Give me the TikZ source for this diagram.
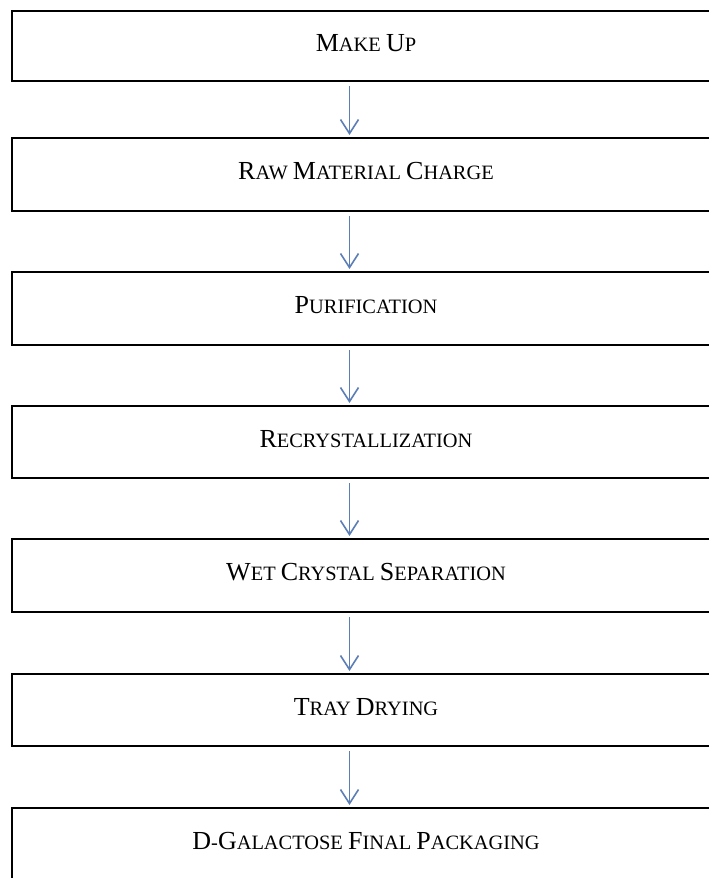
\documentclass[tikz,border=0pt]{standalone}
\usepackage{fontspec}
\setmainfont{Liberation Serif}
\usetikzlibrary{arrows.meta}
\definecolor{arrowblue}{RGB}{92,126,182}
\newcommand\Bg[1]{{\fontsize{26}{30}\selectfont #1}}
\tikzset{
  stepbox/.style={draw=black, line width=2pt, rectangle, minimum width=708pt,
    inner sep=0pt, anchor=center, text height=10pt, text depth=0pt,
    font=\fontsize{20.4}{24}\selectfont},
  flowarrow/.style={draw=arrowblue, line width=1.6pt,
    -{Straight Barb[length=14pt,width=18pt,line width=1.6pt]}}
}
\begin{document}
\begin{tikzpicture}[x=1pt,y=-1pt]
\useasboundingbox (0,0) rectangle (709,878);
\clip (0,0) rectangle (709,878);
\fill[white] (0,0) rectangle (709,878);
\coordinate (ax) at (349.5,0);
\node[stepbox, minimum height=70pt] (b1) at (366,46) {\Bg{M}AKE \Bg{U}P};
\node[stepbox, minimum height=73pt] (b2) at (366,174.5) {\Bg{R}AW \Bg{M}ATERIAL \Bg{C}HARGE};
\node[stepbox, minimum height=73pt] (b3) at (366,308.5) {\Bg{P}URIFICATION};
\node[stepbox, minimum height=72pt] (b4) at (366,442) {\Bg{R}ECRYSTALLIZATION};
\node[stepbox, minimum height=73pt] (b5) at (366,575.5) {\Bg{W}ET \Bg{C}RYSTAL \Bg{S}EPARATION};
\node[stepbox, minimum height=72pt] (b6) at (366,710) {\Bg{T}RAY \Bg{D}RYING};
\node[stepbox, minimum height=72pt] (b7) at (366,844) {\Bg{D}-\Bg{G}ALACTOSE \Bg{F}INAL \Bg{P}ACKAGING};
\foreach \a/\b in {b1/b2,b2/b3,b3/b4,b4/b5,b5/b6,b6/b7}{
  \draw[flowarrow, shorten <=4pt, shorten >=2pt] (\a.south -| ax) -- (\b.north -| ax);
}
\end{tikzpicture}
\end{document}
